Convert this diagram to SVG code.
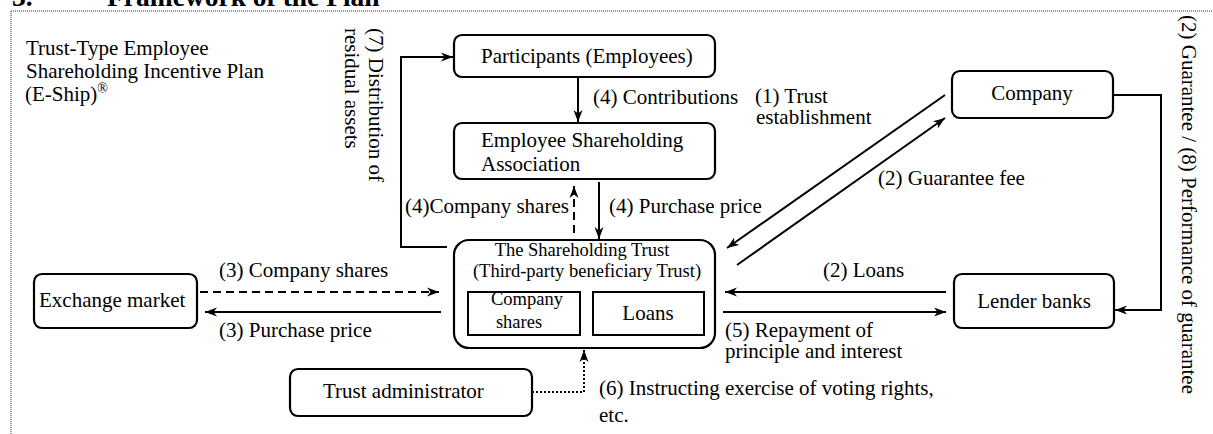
<svg xmlns="http://www.w3.org/2000/svg" width="1213" height="434" viewBox="0 0 1213 434">
<style>
text{font-family:"Liberation Serif","Times New Roman",serif;font-size:21px;fill:#000}
.sm{font-size:18.5px}
.box{fill:#fff;stroke:#000;stroke-width:2.2}
.ln{fill:none;stroke:#000;stroke-width:2}
.dash{stroke-dasharray:8 5}
.dot{stroke-dasharray:2 2}
.c{text-anchor:middle}
</style>
<defs>
<marker id="ah" markerUnits="userSpaceOnUse" markerWidth="13" markerHeight="10" refX="12" refY="5" orient="auto" viewBox="0 0 13 10">
<path d="M0,0.5 L12,5 L0,9.5 L3.5,5 Z" fill="#000"/>
</marker>
</defs>
<rect width="1213" height="434" fill="#fff"/>
<g id="title">
<text x="12" y="6" style="font-weight:bold;font-size:27.5px">3.</text>
<text x="107" y="6" style="font-weight:bold;font-size:27.5px">Framework of the Plan</text>
</g>
<g id="frame">
<path d="M11,11 H1213 M11,11 V434" fill="none" stroke="#333" stroke-width="1" stroke-dasharray="1 1"/>
</g>
<g id="plan-name">
<text x="26" y="55">Trust-Type Employee</text>
<text x="26" y="78">Shareholding Incentive Plan</text>
<text x="25" y="101">(E-Ship)<tspan font-size="14" dy="-8">®</tspan></text>
</g>
<g id="connectors">
<polyline class="ln" points="447,247 401,247 401,57 453,57" marker-end="url(#ah)"/>
<line class="ln" x1="578" y1="77" x2="578" y2="122" marker-end="url(#ah)"/>
<line class="ln dash" x1="574" y1="233" x2="574" y2="186" marker-end="url(#ah)"/>
<line class="ln" x1="599" y1="182" x2="599" y2="239" marker-end="url(#ah)"/>
<line class="ln" x1="945" y1="95" x2="727" y2="248" marker-end="url(#ah)"/>
<line class="ln" x1="737" y1="265" x2="945" y2="118" marker-end="url(#ah)"/>
<line class="ln dash" x1="200" y1="292" x2="439" y2="292" marker-end="url(#ah)"/>
<line class="ln" x1="441" y1="312" x2="205" y2="312" marker-end="url(#ah)"/>
<line class="ln" x1="946" y1="292" x2="725" y2="292" marker-end="url(#ah)"/>
<line class="ln" x1="723" y1="312" x2="946" y2="312" marker-end="url(#ah)"/>
<polyline class="ln dot" points="532,392 584,392 584,350" marker-end="url(#ah)"/>
<polyline class="ln" points="1113,95 1161,95 1161,310 1115,310" marker-end="url(#ah)"/>
<text x="593" y="104">(4) Contributions</text>
<text x="755" y="103">(1) Trust</text>
<text x="756" y="124">establishment</text>
<text x="878" y="185">(2) Guarantee fee</text>
<text x="405" y="213">(4)Company shares</text>
<text x="609" y="213">(4) Purchase price</text>
<text x="219" y="277">(3) Company shares</text>
<text x="219" y="337">(3) Purchase price</text>
<text x="823" y="277">(2) Loans</text>
<text x="725" y="337">(5) Repayment of</text>
<text x="725" y="358">principle and interest</text>
<text x="599" y="395">(6) Instructing exercise of voting rights,</text>
<text x="599" y="422">etc.</text>
<text transform="translate(369,28) rotate(90)">(7) Distribution of</text>
<text transform="translate(345,28) rotate(90)">residual assets</text>
<text transform="translate(1182,15) rotate(90)">(2) Guarantee / (8) Performance of  guarantee</text>
</g>
<g id="participants">
<rect class="box" x="454" y="35" width="261" height="42" rx="8"/>
<text x="481" y="63">Participants (Employees)</text>
</g>
<g id="association">
<rect class="box" x="454" y="123" width="261" height="56" rx="8"/>
<text x="481" y="147">Employee Shareholding</text>
<text x="481" y="171">Association</text>
</g>
<g id="company">
<rect class="box" x="952" y="71" width="161" height="47" rx="8"/>
<text class="c" x="1032" y="100">Company</text>
</g>
<g id="lender-banks">
<rect class="box" x="954" y="274" width="160" height="54" rx="8"/>
<text class="c" x="1034" y="308">Lender banks</text>
</g>
<g id="exchange-market">
<rect class="box" x="34" y="274" width="163" height="54" rx="8"/>
<text x="39" y="307">Exchange market</text>
</g>
<g id="trust-administrator">
<rect class="box" x="290" y="369" width="242" height="47" rx="8"/>
<text x="323" y="398">Trust administrator</text>
</g>
<g id="shareholding-trust">
<rect class="box" x="454" y="240" width="261" height="108" rx="15"/>
<text class="c sm" x="582" y="256">The Shareholding Trust</text>
<text class="c sm" x="587" y="277">(Third-party beneficiary Trust)</text>
<rect x="468" y="292" width="112" height="43" fill="none" stroke="#000" stroke-width="2"/>
<text class="c sm" x="527" y="305">Company</text>
<text class="c sm" x="519" y="328">shares</text>
<rect x="593" y="292" width="111" height="43" fill="none" stroke="#000" stroke-width="2"/>
<text class="c" x="648" y="320">Loans</text>
</g>
</svg>
